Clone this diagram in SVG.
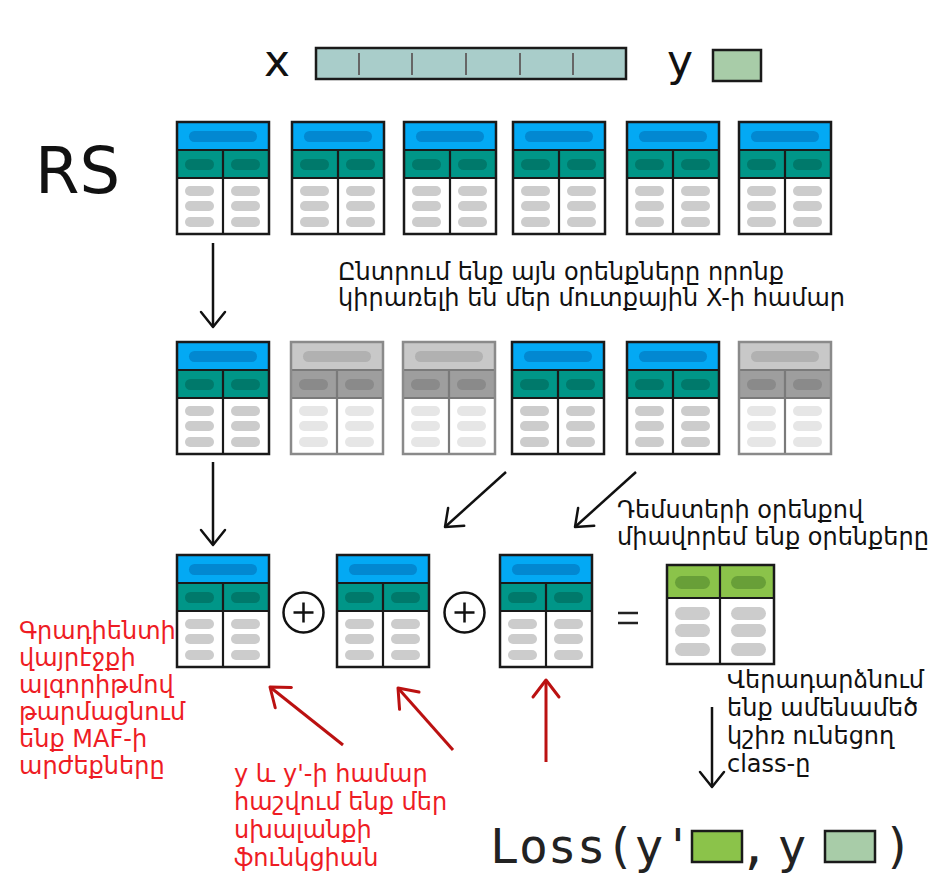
<svg xmlns="http://www.w3.org/2000/svg" xmlns:xlink="http://www.w3.org/1999/xlink" width="944" height="894" viewBox="0 0 944 894">
<style>
.t{font-family:"DejaVu Sans","Noto Sans",sans-serif;font-size:24px;fill:#111}
.r{fill:#ee1c24}
.big{font-family:"DejaVu Sans","Liberation Sans",sans-serif;fill:#111}
.mono{font-family:"DejaVu Sans Mono","Liberation Mono",monospace;font-size:48px;fill:#222}
.ar{stroke:#111;stroke-width:2.5;fill:none}
.arr{stroke:#bb1111;stroke-width:3;fill:none}
</style>
<defs>
<marker id="ah" viewBox="-20 -16 24 32" refX="0" refY="0" markerWidth="24" markerHeight="32" markerUnits="userSpaceOnUse" orient="auto">
<path d="M-15,-12 L0,0 L-15,12" fill="none" stroke="#111" stroke-width="2.5" stroke-linecap="round" stroke-linejoin="round"/>
</marker>
<marker id="ahr" viewBox="-22 -18 26 36" refX="0" refY="0" markerWidth="26" markerHeight="36" markerUnits="userSpaceOnUse" orient="auto">
<path d="M-17,-13 L0,0 L-17,13" fill="none" stroke="#bb1111" stroke-width="3" stroke-linecap="round" stroke-linejoin="round"/>
</marker>
<symbol id="tbl" overflow="visible">
<rect x="0" y="0" width="92" height="28" fill="#03a9f4"/>
<rect x="0" y="28" width="92" height="28" fill="#009688"/>
<rect x="0" y="56" width="92" height="56" fill="#ffffff"/>
<rect x="12" y="9" width="68" height="11" rx="5.5" fill="#0288d1"/>
<rect x="8" y="37" width="29" height="11" rx="5.5" fill="#00796b"/>
<rect x="54" y="37" width="29" height="11" rx="5.5" fill="#00796b"/>
<rect x="8" y="64" width="29" height="10" rx="5" fill="#cccccc"/>
<rect x="54" y="64" width="29" height="10" rx="5" fill="#cccccc"/>
<rect x="8" y="79" width="29" height="10" rx="5" fill="#cccccc"/>
<rect x="54" y="79" width="29" height="10" rx="5" fill="#cccccc"/>
<rect x="8" y="95" width="29" height="10" rx="5" fill="#cccccc"/>
<rect x="54" y="95" width="29" height="10" rx="5" fill="#cccccc"/>
<path d="M0,28 H92 M0,56 H92 M46,28 V112" stroke="#1a1a1a" stroke-width="2.2" fill="none"/>
<rect x="0" y="0" width="92" height="112" fill="none" stroke="#1a1a1a" stroke-width="2.5"/>
</symbol>
<symbol id="gtbl" overflow="visible">
<rect x="0" y="0" width="92" height="28" fill="#c8c8c8"/>
<rect x="0" y="28" width="92" height="28" fill="#9e9e9e"/>
<rect x="0" y="56" width="92" height="56" fill="#ffffff"/>
<rect x="12" y="9" width="68" height="11" rx="5.5" fill="#b1b1b1"/>
<rect x="8" y="37" width="29" height="11" rx="5.5" fill="#8a8a8a"/>
<rect x="54" y="37" width="29" height="11" rx="5.5" fill="#8a8a8a"/>
<rect x="8" y="64" width="29" height="10" rx="5" fill="#e6e6e6"/>
<rect x="54" y="64" width="29" height="10" rx="5" fill="#e6e6e6"/>
<rect x="8" y="79" width="29" height="10" rx="5" fill="#e6e6e6"/>
<rect x="54" y="79" width="29" height="10" rx="5" fill="#e6e6e6"/>
<rect x="8" y="95" width="29" height="10" rx="5" fill="#e6e6e6"/>
<rect x="54" y="95" width="29" height="10" rx="5" fill="#e6e6e6"/>
<path d="M0,28 H92 M0,56 H92 M46,28 V112" stroke="#7a7a7a" stroke-width="2.2" fill="none"/>
<rect x="0" y="0" width="92" height="112" fill="none" stroke="#8a8a8a" stroke-width="2.5"/>
</symbol>
</defs>
<rect width="944" height="894" fill="#ffffff"/>

<g id="input">
<text class="big" x="264" y="76" font-size="44">x</text>
<rect x="316" y="48" width="310" height="31" fill="#a9cdca" stroke="#1a1a1a" stroke-width="2.5"/>
<path d="M359,53 V75 M412,53 V75 M466,53 V75 M520,53 V75 M573,53 V75" stroke="#666" stroke-width="2"/>
<text class="big" x="667" y="76" font-size="44">y</text>
<rect x="713" y="50" width="48" height="31" fill="#a8cca8" stroke="#1a1a1a" stroke-width="2.5"/>
</g>

<g id="rs-label"><text class="big" x="35" y="193" font-size="64" font-family="Liberation Sans, sans-serif">RS</text></g>

<g id="rules-all">
<use xlink:href="#tbl" x="177" y="122"/>
<use xlink:href="#tbl" x="292" y="122"/>
<use xlink:href="#tbl" x="404" y="122"/>
<use xlink:href="#tbl" x="513" y="122"/>
<use xlink:href="#tbl" x="627" y="122"/>
<use xlink:href="#tbl" x="739" y="122"/>
</g>

<g id="rules-selected">
<use xlink:href="#tbl" x="177" y="342"/>
<use xlink:href="#gtbl" x="291" y="342"/>
<use xlink:href="#gtbl" x="403" y="342"/>
<use xlink:href="#tbl" x="512" y="342"/>
<use xlink:href="#tbl" x="627" y="342"/>
<use xlink:href="#gtbl" x="739" y="342"/>
</g>

<g id="rules-combine">
<use xlink:href="#tbl" x="177" y="555"/>
<use xlink:href="#tbl" x="337" y="555"/>
<use xlink:href="#tbl" x="500" y="555"/>
<circle cx="303.5" cy="612.5" r="20" fill="#fff" stroke="#111" stroke-width="2.5"/>
<path d="M293.5,612.5 H313.5 M303.5,602.5 V622.5" stroke="#111" stroke-width="2.5"/>
<circle cx="464.5" cy="612.5" r="20" fill="#fff" stroke="#111" stroke-width="2.5"/>
<path d="M454.5,612.5 H474.5 M464.5,602.5 V622.5" stroke="#111" stroke-width="2.5"/>
<path d="M618,613 H638 M618,623 H638" stroke="#222" stroke-width="2.5"/>
</g>

<g id="result">
<rect x="667" y="565" width="107" height="33" fill="#8bc34a"/>
<rect x="667" y="598" width="107" height="66" fill="#ffffff"/>
<rect x="675" y="576" width="35" height="13" rx="6.5" fill="#689f38"/>
<rect x="731" y="576" width="35" height="13" rx="6.5" fill="#689f38"/>
<rect x="675" y="607" width="35" height="13" rx="6.5" fill="#cccccc"/>
<rect x="731" y="607" width="35" height="13" rx="6.5" fill="#cccccc"/>
<rect x="675" y="624" width="35" height="13" rx="6.5" fill="#cccccc"/>
<rect x="731" y="624" width="35" height="13" rx="6.5" fill="#cccccc"/>
<rect x="675" y="643" width="35" height="13" rx="6.5" fill="#cccccc"/>
<rect x="731" y="643" width="35" height="13" rx="6.5" fill="#cccccc"/>
<path d="M667,598 H774 M720,565 V664" stroke="#1a1a1a" stroke-width="2.2" fill="none"/>
<rect x="667" y="565" width="107" height="99" fill="none" stroke="#1a1a1a" stroke-width="2.5"/>
</g>

<g id="loss">
<text class="mono" x="490" y="863">Loss(y'</text>
<rect x="692" y="831" width="50" height="31" fill="#8bc34a" stroke="#1a1a1a" stroke-width="2.5"/>
<text class="mono" x="754" y="863" text-anchor="middle">,</text>
<text class="mono" x="792" y="863" text-anchor="middle">y</text>
<rect x="825" y="831" width="50" height="31" fill="#a8cca8" stroke="#1a1a1a" stroke-width="2.5"/>
<text class="mono" x="898" y="863" text-anchor="middle">)</text>
</g>

<g id="connectors">
<path class="ar" d="M213,243 V327" marker-end="url(#ah)"/>
<path class="ar" d="M213,462 V545" marker-end="url(#ah)"/>
<path class="ar" d="M506,472 L445,527" marker-end="url(#ah)"/>
<path class="ar" d="M636,472 L575,527" marker-end="url(#ah)"/>
<path class="ar" d="M712,707 V787" marker-end="url(#ah)"/>
<path class="arr" d="M343,745 L270,687" marker-end="url(#ahr)"/>
<path class="arr" d="M453,750 L398,688" marker-end="url(#ahr)"/>
<path class="arr" d="M546,762 V680" marker-end="url(#ahr)"/>
</g>

<g id="label-select">
<text class="t" x="338" y="280">Ընտրում ենք այն օրենքները որոնք</text>
<text class="t" x="338" y="306">կիրառելի են մեր մուտքային X-ի համար</text>
</g>
<g id="label-dempster">
<text class="t" x="617" y="518">Դեմստերի օրենքով</text>
<text class="t" x="617" y="545">միավորեմ ենք օրենքերը</text>
</g>
<g id="label-gradient">
<text class="t r" x="19" y="639">Գրադիենտի</text>
<text class="t r" x="19" y="666">վայրէջքի</text>
<text class="t r" x="19" y="693">ալգորիթմով</text>
<text class="t r" x="19" y="720">թարմացնում</text>
<text class="t r" x="19" y="747">ենք MAF-ի</text>
<text class="t r" x="19" y="774">արժեքները</text>
</g>
<g id="label-loss">
<text class="t r" x="234" y="782">y և y'-ի համար</text>
<text class="t r" x="234" y="810">հաշվում ենք մեր</text>
<text class="t r" x="234" y="838">սխալանքի</text>
<text class="t r" x="234" y="866">ֆունկցիան</text>
</g>
<g id="label-return">
<text class="t" x="727" y="688">Վերադարձնում</text>
<text class="t" x="727" y="716">ենք ամենամեծ</text>
<text class="t" x="727" y="744">կշիռ ունեցող</text>
<text class="t" x="727" y="772">class-ը</text>
</g>
</svg>
